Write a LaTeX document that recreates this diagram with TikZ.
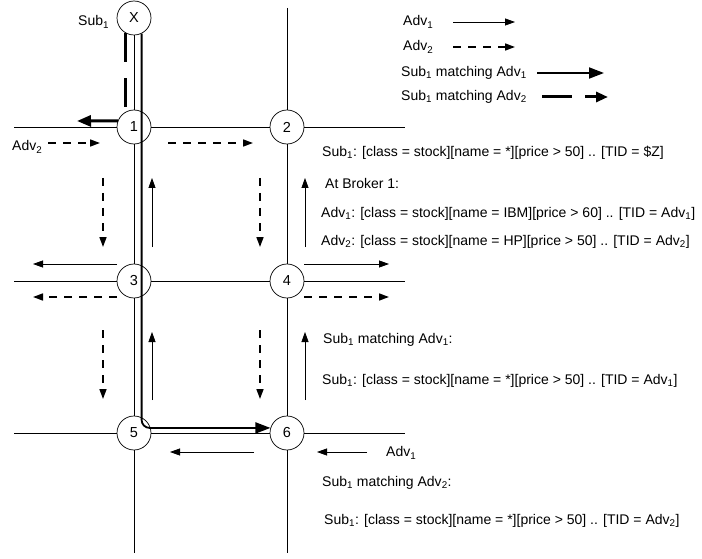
\documentclass[tikz,border=0pt]{standalone}
\usepackage{fontspec}
\setmainfont{Liberation Sans}
\usetikzlibrary{arrows.meta}

\begin{document}
\begin{tikzpicture}[x=1pt, y=-1pt,
    broker/.style={draw, circle, fill=white, minimum size=34pt, inner sep=0pt, line width=0.7pt, font=\fontsize{14.5}{16}\selectfont},
    lbl/.style={anchor=west, inner sep=0pt, font=\fontsize{14}{16}\selectfont},
    net/.style={line width=0.8pt},
    advone/.style={line width=0.8pt, -{Triangle[length=10pt, width=7pt]}},
    advtwo/.style={line width=1.6pt, dash pattern=on 8pt off 7pt, -{Triangle[length=10pt, width=7pt]}},
    matchone/.style={line width=1.8pt, -{Triangle[length=15pt, width=11pt]}},
    matchtwo/.style={line width=3pt, dash pattern=on 29pt off 16pt}]
    \useasboundingbox (0,0) rectangle (702,559);

    % brokers
    \node[broker] (x)  at (134,18)  {X};
    \node[broker] (b1) at (134,127) {1};
    \node[broker] (b2) at (287,127) {2};
    \node[broker] (b3) at (134,281) {3};
    \node[broker] (b4) at (287,281) {4};
    \node[broker] (b5) at (134,433) {5};
    \node[broker] (b6) at (287,433) {6};

    % ends of the links
    \coordinate (w1) at (14,127);  \coordinate (e1) at (405,127);
    \coordinate (w3) at (14,281);  \coordinate (e3) at (405,281);
    \coordinate (w5) at (14,433);  \coordinate (e5) at (405,433);
    \coordinate (n2) at (287,8);
    \coordinate (s5) at (134,553); \coordinate (s6) at (287,553);

    % links
    \draw[net] (w1) -- (b1) -- (b2) -- (e1);
    \draw[net] (w3) -- (b3) -- (b4) -- (e3);
    \draw[net] (w5) -- (b5) -- (b6) -- (e5);
    \draw[net] (x) -- (b1) -- (b3) -- (b5) -- (s5);
    \draw[net] (n2) -- (b2) -- (b4) -- (b6) -- (s6);

    % Sub1 path
    \draw[matchone, rounded corners=8pt] (x.-64) |- (b6.163);
    \draw[matchtwo] (x.-118) -- (b1.118);
    \coordinate (m2) at (77,121);
    \draw[line width=3pt, -{Triangle[length=14pt, width=11pt]}] (b1.159) -- (m2);
    \node[lbl] (subx) at (78,22) {Sub\textsubscript{1}};

    % Adv2 floods
    \draw[advtwo] (48,143) -- (100,143);
    \draw[advtwo] (168,143) -- (253,143);
    \draw[advtwo] (103,178) -- (103,247);
    \draw[advtwo] (260,178) -- (260,247);
    \draw[advtwo] (117,297) -- (33,297);
    \draw[advtwo] (304,297) -- (389,297);
    \draw[advtwo] (103,330) -- (103,399);
    \draw[advtwo] (260,330) -- (260,399);
    \node[lbl] (advin) at (12,147) {Adv\textsubscript{2}};

    % Adv1 floods
    \draw[advone] (152,247) -- (152,178);
    \draw[advone] (305,247) -- (305,178);
    \draw[advone] (117,264) -- (33,264);
    \draw[advone] (304,264) -- (389,264);
    \draw[advone] (152,400) -- (152,332);
    \draw[advone] (305,400) -- (305,332);
    \draw[advone] (254,452) -- (170,452);
    \draw[advone] (367,452) -- (317,452);
    \node[lbl] (advon) at (386,453) {Adv\textsubscript{1}};

    % legend
    \node[lbl] (lg1) at (403,22) {Adv\textsubscript{1}};
    \node[lbl] (lg2) at (403,47) {Adv\textsubscript{2}};
    \node[lbl] (lg3) at (401,73) {Sub\textsubscript{1} matching Adv\textsubscript{1}};
    \node[lbl] (lg4) at (401,97) {Sub\textsubscript{1} matching Adv\textsubscript{2}};
    \draw[advone] (453,22) -- (515,22);
    \draw[advtwo] (453,47) -- (515,47);
    \draw[matchone] (537,73) -- (604,73);
    \draw[line width=3pt, dash pattern=on 30pt off 13pt, -{Triangle[length=12pt, width=10pt]}] (542,97) -- (608,97);

    % tables
    \node[lbl] (t1) at (322,153) {Sub\textsubscript{1}: [class = stock][name = *][price > 50] .. [TID = \$Z]};
    \node[lbl] (t2) at (325,183) {At Broker 1:};
    \node[lbl] (t3) at (321,214) {Adv\textsubscript{1}: [class = stock][name = IBM][price > 60] .. [TID = Adv\textsubscript{1}]};
    \node[lbl] (t4) at (321,242) {Adv\textsubscript{2}: [class = stock][name = HP][price > 50] .. [TID = Adv\textsubscript{2}]};
    \node[lbl] (t5) at (323,340) {Sub\textsubscript{1} matching Adv\textsubscript{1}:};
    \node[lbl] (t6) at (322,381) {Sub\textsubscript{1}: [class = stock][name = *][price > 50] .. [TID = Adv\textsubscript{1}]};
    \node[lbl] (t7) at (322,483) {Sub\textsubscript{1} matching Adv\textsubscript{2}:};
    \node[lbl] (t8) at (324,521) {Sub\textsubscript{1}: [class = stock][name = *][price > 50] .. [TID = Adv\textsubscript{2}]};
\end{tikzpicture}
\end{document}
